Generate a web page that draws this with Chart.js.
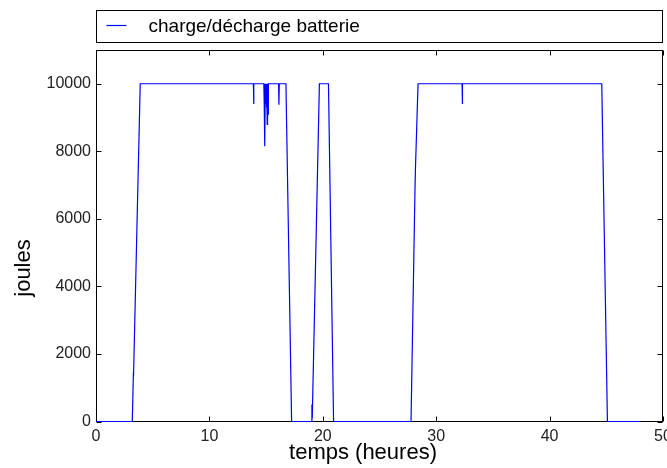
<!DOCTYPE html>
<html>
<head>
<meta charset="utf-8">
<script src="https://cdn.jsdelivr.net/npm/chart.js@4/dist/chart.umd.min.js"></script>
<style>
html,body{margin:0;padding:0;background:#fff;}
#wrap{width:667px;height:468px;position:relative;}
</style>
</head>
<body>
<div id="wrap"><canvas id="c" width="667" height="468"></canvas></div>
<script>
// ---- data ----
const seriesLabel = "charge/décharge batterie";
const xTitle = "temps (heures)";
const yTitle = "joules";
const hours  = [0, 3.2, 3.3, 3.31, 3.9, 13.88, 13.9, 13.93, 14.8, 14.83, 14.86, 14.88, 14.9, 14.93, 14.97, 15.0, 15.03, 15.06, 15.1, 15.13, 15.17, 15.2, 16.1, 16.13, 16.16, 16.75, 17.25, 19.0, 19.04, 19.07, 19.7, 20.5, 20.95, 27.78, 28.13, 28.17, 28.4, 32.28, 32.3, 32.33, 44.6, 45.1, 48.0];
const joules = [0, 0, 1450, 1350, 10000, 10000, 9400, 10000, 10000, 9500, 10000, 9000, 8150, 10000, 9400, 10000, 9300, 10000, 8800, 10000, 9100, 10000, 10000, 9380, 10000, 10000, 0, 0, 500, 100, 10000, 10000, 0, 0, 6900, 7500, 10000, 10000, 9400, 10000, 10000, 0, 0];
const xTicks = [0, 10, 20, 30, 40, 50];
const yTicks = [0, 2000, 4000, 6000, 8000, 10000];
const xRange = [0, 50];
const yRange = [0, 11000];

const FONT = "'Liberation Sans', Arial, sans-serif";

const framePlugin = {
  id: 'framePlugin',
  beforeDatasetsDraw(chart) {
    const ctx = chart.ctx, a = chart.chartArea;
    const xs = chart.scales.x, ys = chart.scales.y;
    ctx.save();
    ctx.strokeStyle = '#000';
    ctx.lineWidth = 1;
    const L = Math.round(a.left) + 0.5, R = Math.round(a.right) - 0.5;
    const T = Math.round(a.top) + 0.5, B = Math.round(a.bottom) - 0.5;
    ctx.strokeRect(L, T, R - L, B - T);
    const tl = 5;
    ctx.beginPath();
    xTicks.forEach(v => {
      const px = Math.round(xs.getPixelForValue(v)) + 0.5;
      ctx.moveTo(px, B); ctx.lineTo(px, B - tl);
      ctx.moveTo(px, T); ctx.lineTo(px, T + tl);
    });
    yTicks.forEach(v => {
      const py = Math.round(ys.getPixelForValue(v)) + 0.5;
      ctx.moveTo(L, py); ctx.lineTo(L + tl, py);
      ctx.moveTo(R, py); ctx.lineTo(R - tl, py);
    });
    ctx.stroke();
    ctx.restore();
  },
  afterDraw(chart) {
    const ctx = chart.ctx, a = chart.chartArea;
    const ds = chart.data.datasets[0];
    ctx.save();
    // legend box
    const L = Math.round(a.left) + 0.5, R = Math.round(a.right) - 0.5;
    ctx.strokeStyle = '#000';
    ctx.lineWidth = 1;
    ctx.strokeRect(L, 10.5, R - L, 32);
    ctx.strokeStyle = ds.borderColor;
    ctx.lineWidth = 1.2;
    ctx.beginPath();
    ctx.moveTo(L + 10, 25.5); ctx.lineTo(L + 30, 25.5);
    ctx.stroke();
    ctx.fillStyle = '#000';
    ctx.font = "19px " + FONT;
    ctx.textBaseline = 'alphabetic';
    ctx.textAlign = 'left';
    ctx.fillText(ds.label, L + 52, 32);
    // axis titles
    ctx.font = "22px " + FONT;
    ctx.textAlign = 'center';
    ctx.textBaseline = 'middle';
    ctx.fillText(xTitle, 363, 453);
    ctx.translate(24, 268);
    ctx.rotate(-Math.PI / 2);
    ctx.fillText(yTitle, 0, 0);
    ctx.restore();
  }
};

new Chart(document.getElementById('c'), {
  type: 'scatter',
  data: {
    datasets: [{
      label: seriesLabel,
      data: hours.map((h, i) => ({ x: h, y: joules[i] })),
      showLine: true,
      borderColor: '#0000ff',
      backgroundColor: '#0000ff',
      borderWidth: 1.2,
      pointRadius: 0,
      tension: 0,
      clip: false
    }]
  },
  plugins: [framePlugin],
  options: {
    responsive: false,
    animation: false,
    layout: { padding: { top: 50, right: 4, left: 0, bottom: 0 } },
    plugins: { legend: { display: false }, tooltip: { enabled: false } },
    scales: {
      x: {
        type: 'linear', min: xRange[0], max: xRange[1],
        grid: { display: false, drawTicks: false },
        border: { display: false },
        afterBuildTicks: s => { s.ticks = xTicks.map(v => ({ value: v })); },
        afterFit: s => { s.height = 46.5; s.paddingLeft = 0; s.paddingRight = 0; },
        ticks: { color: '#222', font: { family: FONT, size: 16 }, padding: 5, maxRotation: 0 }
      },
      y: {
        type: 'linear', min: yRange[0], max: yRange[1],
        grid: { display: false, drawTicks: false },
        border: { display: false },
        afterBuildTicks: s => { s.ticks = yTicks.map(v => ({ value: v })); },
        afterFit: s => { s.width = 96; s.paddingTop = 0; s.paddingBottom = 0; },
        ticks: { color: '#222', font: { family: FONT, size: 16 }, padding: 5, callback: v => String(v) }
      }
    }
  }
});
</script>
</body>
</html>
